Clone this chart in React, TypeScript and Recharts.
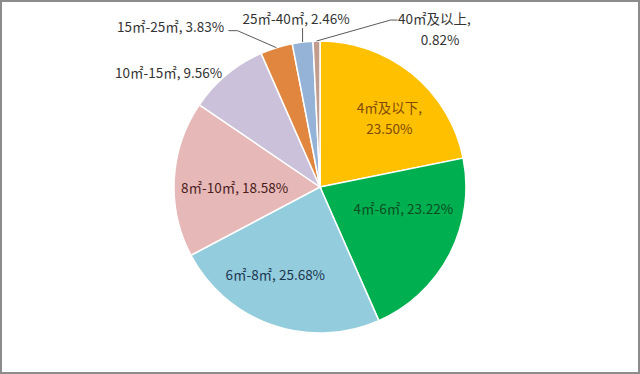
import React from "react";
import { PieChart, Pie, Cell } from "recharts";

const categories = ["4㎡及以下", "4㎡-6㎡", "6㎡-8㎡", "8㎡-10㎡", "10㎡-15㎡", "15㎡-25㎡", "25㎡-40㎡", "40㎡及以上"];
const shares = [23.5, 23.22, 25.68, 18.58, 9.56, 3.83, 2.46, 0.82];
const sliceColors = ["#FFC000", "#00B050", "#93CDDD", "#E6B9B8", "#CCC1DA", "#E0863E", "#95B3D7", "#C29C8C"];
const labelColors = ["#7E4A08", "#0B4D22", "#1C3650", "#4A1C1C", "#333333", "#333333", "#333333", "#333333"];

const data = categories.map((name, i) => ({ name, value: shares[i] }));

const RAD = Math.PI / 180;
const FONT = "'Noto Sans CJK SC', 'Noto Sans', sans-serif";
const FS = 13.5;
const LINE = "#595959";

// label layout per slice: inside labels nudged from 0.62*r, outside from slice edge
const layout: any[] = [
  { mode: "inside2", dx: 12, dy: 1 },
  { mode: "inside", dx: 3, dy: -21 },
  { mode: "inside", dx: -15, dy: 2 },
  { mode: "inside", dx: 5, dy: 5 },
  { mode: "outEnd", tx: -4.5, ty: -3 },
  { mode: "outEnd", tx: -52.3, ty: -21.7, pts: [[-39, -17], [-48, -17]] },
  { mode: "outMid", tx: -6.5, ty: -24, pts: [[0, -14]] },
  { mode: "outTwo", tx: 81.6, ty: -23, t2x: 123.6, t2y: -2, pts: [[74, -21], [81, -21]] },
];

const renderLabel = (props: any) => {
  const { cx, cy, midAngle, outerRadius, index, name, value } = props;
  const L = layout[index];
  const color = labelColors[index];
  const pct = Number(value).toFixed(2) + "%";
  const common = { fontFamily: FONT, fontSize: FS, fill: color, dominantBaseline: "central" as const };
  if (L.mode === "inside" || L.mode === "inside2") {
    const r = outerRadius * 0.62;
    const x = cx + r * Math.cos(-midAngle * RAD) + L.dx;
    const y = cy + r * Math.sin(-midAngle * RAD) + L.dy;
    if (L.mode === "inside2") {
      return (
        <g key={`l${index}`}>
          <text x={x} y={y - 10.5} textAnchor="middle" {...common}>{name + ","}</text>
          <text x={x} y={y + 10.5} textAnchor="middle" {...common}>{pct}</text>
        </g>
      );
    }
    return (
      <text key={`l${index}`} x={x} y={y} textAnchor="middle" {...common}>{name + ", " + pct}</text>
    );
  }
  const ex = cx + outerRadius * Math.cos(-midAngle * RAD);
  const ey = cy + outerRadius * Math.sin(-midAngle * RAD);
  const path = L.pts
    ? "M" + ex + "," + ey + L.pts.map((p: number[]) => " L" + (ex + p[0]) + "," + (ey + p[1])).join("")
    : null;
  return (
    <g key={`l${index}`}>
      {path && <path d={path} stroke={LINE} strokeWidth={1} fill="none" />}
      {L.mode === "outTwo" ? (
        <>
          <text x={ex + L.tx} y={ey + L.ty} textAnchor="start" {...common}>{name + ","}</text>
          <text x={ex + L.t2x} y={ey + L.t2y} textAnchor="middle" {...common}>{pct}</text>
        </>
      ) : (
        <text
          x={ex + L.tx}
          y={ey + L.ty}
          textAnchor={L.mode === "outEnd" ? "end" : "middle"}
          {...common}
        >
          {name + ", " + pct}
        </text>
      )}
    </g>
  );
};

export default function App() {
  return (
    <div style={{ position: "absolute", left: 0, top: 0, width: 640, height: 374, background: "#fff" }}>
      <PieChart width={640} height={374} margin={{ top: 0, right: 0, bottom: 0, left: 0 }}>
        <Pie
          data={data}
          dataKey="value"
          nameKey="name"
          cx={320}
          cy={187}
          outerRadius={146}
          startAngle={90}
          endAngle={-270}
          stroke="#ffffff"
          strokeWidth={1.5}
          label={renderLabel}
          labelLine={false}
          isAnimationActive={false}
        >
          {data.map((d, i) => (
            <Cell key={d.name} fill={sliceColors[i]} />
          ))}
        </Pie>
      </PieChart>
      <div
        style={{
          position: "absolute",
          left: 0,
          top: 0,
          width: 640,
          height: 374,
          boxSizing: "border-box",
          border: "2px solid #8c8c8c",
          pointerEvents: "none",
        }}
      />
    </div>
  );
}
